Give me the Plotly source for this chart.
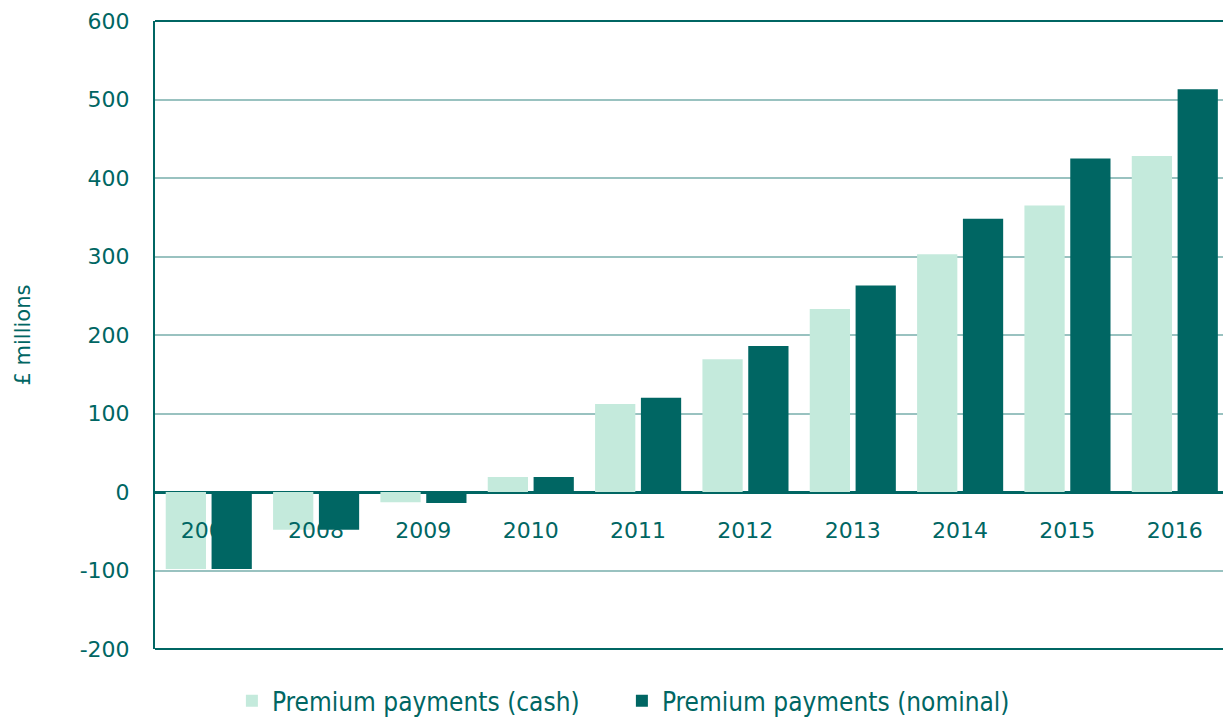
import plotly.graph_objects as go

years = ["2007", "2008", "2009", "2010", "2011", "2012", "2013", "2014", "2015", "2016"]
cash = [-98, -48, -13, 19, 112, 169, 233, 303, 365, 428]
nominal = [-98, -48, -14, 19, 120, 186, 263, 348, 425, 513]
y_ticks = [-200, -100, 0, 100, 200, 300, 400, 500, 600]
y_tick_text = ["-200", "-100", "0", "100", "200", "300", "400", "500", "600"]

TEAL = "#006663"
MINT = "#c4eadc"
GRID = "#99c2c0"
FONT = "DejaVu Sans"

Y_RANGE = [-200, 600]
X_RANGE = [-0.5, 9.45]
BAR_W = 0.375
YEAR_LABEL_Y = -52  # year labels sit just under the zero line

fig = go.Figure()

# cash bars on the base subplot, year labels above them
fig.add_trace(go.Bar(x=years, y=cash, name="Premium payments (cash)",
                     width=BAR_W, offset=-0.40,
                     marker=dict(color=MINT, line=dict(width=0)),
                     xaxis="x", yaxis="y"))
fig.add_trace(go.Scatter(x=years, y=[YEAR_LABEL_Y] * len(years), text=years,
                         mode="text", textposition="middle center",
                         textfont=dict(family=FONT, size=22, color=TEAL),
                         showlegend=False, hoverinfo="skip",
                         xaxis="x", yaxis="y"))
# nominal bars on an overlaid subplot so they cover the year labels
fig.add_trace(go.Bar(x=years, y=nominal, name="Premium payments (nominal)",
                     width=BAR_W, offset=0.027,
                     marker=dict(color=TEAL, line=dict(width=0)),
                     xaxis="x2", yaxis="y2"))

fig.update_layout(
    width=1223, height=720,
    margin=dict(l=155, r=0, t=21, b=71, autoexpand=False),
    plot_bgcolor="white", paper_bgcolor="white",
    font=dict(family=FONT, color=TEAL),
    showlegend=True,
    legend=dict(orientation="h", x=0.072, xanchor="left", y=-0.045, yanchor="top",
                font=dict(family="DejaVu Sans Condensed", size=26, color=TEAL),
                entrywidth=345, itemwidth=30, traceorder="normal"),
    xaxis=dict(
        range=X_RANGE, showline=False, showgrid=False, ticks="",
        showticklabels=False, zeroline=False,
    ),
    xaxis2=dict(
        overlaying="x", matches="x", range=X_RANGE, visible=False,
    ),
    yaxis=dict(
        range=Y_RANGE, tickvals=y_ticks, ticktext=y_tick_text, showgrid=True,
        gridcolor=GRID, gridwidth=2,
        zeroline=True, zerolinecolor=TEAL, zerolinewidth=3,
        showline=True, linecolor=TEAL, linewidth=2,
        ticks="", ticklabelstandoff=19,
        tickfont=dict(family=FONT, size=22, color=TEAL),
        title=dict(text="£ millions", font=dict(family=FONT, size=21, color=TEAL),
                   standoff=43),
    ),
    yaxis2=dict(
        overlaying="y", range=Y_RANGE, visible=False, showgrid=False,
        zeroline=False,
    ),
    shapes=[
        dict(type="line", xref="paper", yref="paper", x0=0, x1=1, y0=1, y1=1,
             line=dict(color=TEAL, width=2)),
        dict(type="line", xref="paper", yref="paper", x0=0, x1=1, y0=0, y1=0,
             line=dict(color=TEAL, width=2)),
    ],
)

fig.write_html("out.html")
